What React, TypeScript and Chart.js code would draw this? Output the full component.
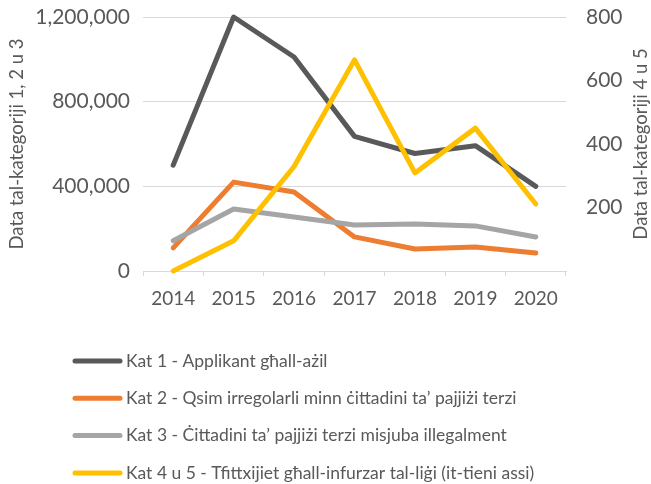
import React, { useEffect, useRef } from "react";
import { Chart, registerables } from "chart.js";

Chart.register(...registerables);

const years = ["2014", "2015", "2016", "2017", "2018", "2019", "2020"];
const kat1 = [500000, 1200000, 1011000, 636000, 555000, 592000, 400000];
const kat2 = [109000, 420000, 373000, 161000, 104000, 113000, 85000];
const kat3 = [143000, 293000, 255000, 217000, 222000, 213000, 161000];
const kat45 = [0, 95, 329, 665, 309, 450, 211];

const seriesLabels = [
  "Kat 1 - Applikant għall-ażil",
  "Kat 2 - Qsim irregolarli minn ċittadini ta’ pajjiżi terzi",
  "Kat 3 - Ċittadini ta’ pajjiżi terzi misjuba illegalment",
  "Kat 4 u 5 - Tfittxijiet għall-infurzar tal-liġi (it-tieni assi)",
];
const colors = ["#595959", "#ED7D31", "#A5A5A5", "#FFC000"];
const leftTitle = "Data tal-kategoriji 1, 2 u 3";
const rightTitle = "Data tal-kategoriji 4 u 5";

const FONT = "Lato";
const TEXT = "#595959";

const extrasPlugin = {
  id: "extras",
  afterDraw(chart: any) {
    const ctx = chart.ctx;
    const area = chart.chartArea;
    ctx.save();
    // right axis title, reading bottom-to-top
    ctx.fillStyle = TEXT;
    ctx.font = `18.5px ${FONT}`;
    ctx.textAlign = "center";
    ctx.textBaseline = "middle";
    ctx.translate(641, (area.top + area.bottom) / 2);
    ctx.rotate(-Math.PI / 2);
    ctx.fillText(rightTitle, 0, 0);
    ctx.restore();

    // legend
    ctx.save();
    const x0 = 73;
    const lineW = 49;
    const y0 = 361;
    const dy = 37.3;
    chart.data.datasets.forEach((ds: any, i: number) => {
      const y = y0 + i * dy;
      ctx.strokeStyle = ds.borderColor;
      ctx.lineWidth = 5;
      ctx.lineCap = "round";
      ctx.beginPath();
      ctx.moveTo(x0 + 2, y);
      ctx.lineTo(x0 + lineW - 2, y);
      ctx.stroke();
      ctx.fillStyle = TEXT;
      ctx.font = `17.5px ${FONT}`;
      ctx.textAlign = "left";
      ctx.textBaseline = "middle";
      ctx.fillText(ds.label, x0 + lineW + 4, y);
    });
    ctx.restore();
  },
};

export default function App() {
  const ref = useRef<HTMLCanvasElement>(null);
  useEffect(() => {
    if (!ref.current) return;
    const mk = (label: string, data: number[], color: string, axis: string, order: number) => ({
      label,
      data,
      borderColor: color,
      backgroundColor: color,
      borderWidth: 5,
      pointRadius: 0,
      pointHoverRadius: 0,
      tension: 0,
      borderCapStyle: "round",
      borderJoinStyle: "round",
      yAxisID: axis,
      order,
      clip: false,
    });
    const chart = new Chart(ref.current, {
      type: "line",
      data: {
        labels: years,
        datasets: [
          mk(seriesLabels[0], kat1, colors[0], "y", 4),
          mk(seriesLabels[1], kat2, colors[1], "y", 3),
          mk(seriesLabels[2], kat3, colors[2], "y", 2),
          mk(seriesLabels[3], kat45, colors[3], "y2", 1),
        ] as any,
      },
      options: {
        responsive: false,
        animation: false,
        layout: { padding: { top: 17, left: 0, right: 0, bottom: 173 } },
        plugins: {
          legend: { display: false },
          tooltip: { enabled: false },
        },
        scales: {
          x: {
            offset: true,
            grid: {
              offset: true,
              drawOnChartArea: false,
              drawTicks: true,
              tickLength: 5,
              color: "#D9D9D9",
            },
            border: { display: true, color: "#D9D9D9" },
            ticks: {
              color: TEXT,
              font: { family: FONT, size: 19 },
              padding: 11,
              maxRotation: 0,
            },
            afterFit(scale: any) {
              scale.height = 40;
              scale.paddingLeft = 0;
              scale.paddingRight = 0;
            },
          },
          y: {
            position: "left",
            min: 0,
            max: 1200000,
            grid: { color: "#D9D9D9", drawTicks: false },
            border: { display: false },
            ticks: {
              stepSize: 400000,
              color: TEXT,
              font: { family: FONT, size: 21 },
              padding: 13,
              callback: (v: any) => Number(v).toLocaleString("en-US"),
            },
            title: {
              display: true,
              text: leftTitle,
              color: TEXT,
              font: { family: FONT, size: 18.5 },
              padding: { top: 6, bottom: 0 },
            },
            afterFit(scale: any) {
              scale.width = 143;
              scale.paddingTop = 0;
              scale.paddingBottom = 0;
            },
          },
          y2: {
            position: "right",
            min: 0,
            max: 800,
            grid: { drawOnChartArea: false, drawTicks: false },
            border: { display: false },
            ticks: {
              stepSize: 200,
              color: TEXT,
              font: { family: FONT, size: 21 },
              padding: 20,
              callback: (v: any) => (Number(v) === 0 ? "" : String(v)),
            },
            afterFit(scale: any) {
              scale.width = 85;
              scale.paddingTop = 0;
              scale.paddingBottom = 0;
            },
          },
        },
      } as any,
      plugins: [extrasPlugin],
    });
    return () => chart.destroy();
  }, []);
  return (
    <div style={{ position: "fixed", left: 0, top: 0, width: 651, height: 484, background: "#fff" }}>
      <canvas ref={ref} width={651} height={484} />
    </div>
  );
}
